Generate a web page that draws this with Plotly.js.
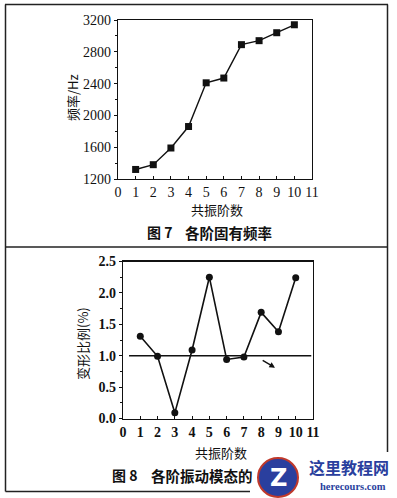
<!DOCTYPE html>
<html>
<head>
<meta charset="utf-8">
<script src="https://cdn.plot.ly/plotly-3.0.1.min.js"></script>
<style>html,body{margin:0;padding:0;background:#fff;}#chart{width:397px;height:498px;}</style>
</head>
<body>
<div id="chart"></div>
<script>
// ---- data ----
var modeOrder = [1, 2, 3, 4, 5, 6, 7, 8, 9, 10];
var naturalFreqHz = [1320, 1380, 1590, 1860, 2410, 2470, 2890, 2940, 3040, 3140];
var deformRatioPct = [1.31, 0.99, 0.09, 1.09, 2.25, 0.94, 0.98, 1.69, 1.38, 2.24];
var refLineX = [0.35, 10.9];
var refLineY = [1.0, 1.0];
var xTickVals = [0, 1, 2, 3, 4, 5, 6, 7, 8, 9, 10, 11];
var freqTickVals = [1200, 1600, 2000, 2400, 2800, 3200];
var ratioTickVals = [0.0, 0.5, 1.0, 1.5, 2.0, 2.5];
var ratioTickText = ["0.0", "0.5", "1.0", "1.5", "2.0", "2.5"];
var arrowFrom = [8.0, 0.94];
var arrowTo = [8.8, 0.81];

var W = 397, H = 498;
function px(x) { return x / W; }
function py(y) { return 1 - y / H; }

var serif = "Liberation Serif";
var cjk = "Noto Sans CJK SC";

var traces = [
  {x: modeOrder, y: naturalFreqHz, xaxis: 'x', yaxis: 'y', mode: 'lines+markers',
   line: {color: '#111', width: 1.4}, marker: {symbol: 'square', size: 7, color: '#111'}, hoverinfo: 'skip'},
  {x: refLineX, y: refLineY, xaxis: 'x2', yaxis: 'y2', mode: 'lines',
   line: {color: '#111', width: 1.6}, hoverinfo: 'skip'},
  {x: modeOrder, y: deformRatioPct, xaxis: 'x2', yaxis: 'y2', mode: 'lines+markers',
   line: {color: '#111', width: 1.6}, marker: {symbol: 'circle', size: 7, color: '#111'}, hoverinfo: 'skip'}
];

function xAx(domain, anchor, bold) {
  return {domain: domain, anchor: anchor, range: [0, 11], tickvals: xTickVals, ticks: 'inside', ticklen: 3,
    tickcolor: '#111', showline: true, linecolor: '#111', linewidth: 1.2, mirror: true,
    showgrid: false, zeroline: false, fixedrange: true,
    tickfont: {family: serif, size: 14, color: '#111', weight: bold ? 'bold' : 'normal'}};
}
function yAx(domain, anchor, range, vals, text, minorDt, bold) {
  var a = {domain: domain, anchor: anchor, range: range, tickvals: vals, ticks: 'outside', ticklen: 3,
    tickcolor: '#111', showline: true, linecolor: '#111', linewidth: 1.2, mirror: true,
    showgrid: false, zeroline: false, fixedrange: true,
    minor: {dtick: minorDt, ticks: 'outside', ticklen: 2, tickcolor: '#111'},
    tickfont: {family: serif, size: 14, color: '#111', weight: bold ? 'bold' : 'normal'}};
  if (text) a.ticktext = text;
  return a;
}

var lineStyle = {color: '#222', width: 1.5};
var shapes = [
  {type: 'line', xref: 'paper', yref: 'paper', x0: px(5), x1: px(388), y0: py(4.5), y1: py(4.5), line: lineStyle},
  {type: 'line', xref: 'paper', yref: 'paper', x0: px(5.5), x1: px(5.5), y0: py(4.5), y1: py(491.5), line: lineStyle},
  {type: 'line', xref: 'paper', yref: 'paper', x0: px(387.5), x1: px(387.5), y0: py(4.5), y1: py(452), line: lineStyle},
  {type: 'line', xref: 'paper', yref: 'paper', x0: px(5.5), x1: px(387.5), y0: py(247), y1: py(247), line: lineStyle},
  {type: 'line', xref: 'paper', yref: 'paper', x0: px(5.5), x1: px(250), y0: py(491.5), y1: py(491.5), line: lineStyle},
  // watermark logo
  {type: 'circle', xref: 'paper', yref: 'paper', layer: 'below', x0: px(258), x1: px(298), y0: py(497), y1: py(458),
   fillcolor: '#2a3f9e', line: {color: '#c0392b', width: 2}}
];

function txt(x, y, text, font, extra) {
  var a = {xref: 'paper', yref: 'paper', x: px(x), y: py(y), text: text, showarrow: false,
    xanchor: 'center', yanchor: 'middle', font: font};
  if (extra) for (var k in extra) a[k] = extra[k];
  return a;
}

var annotations = [
  txt(72, 98, '频率/Hz', {family: cjk, size: 13, color: '#111'}, {textangle: -90}),
  txt(217, 209, '共振阶数', {family: cjk, size: 13, color: '#111'}),
  txt(145, 232, '<b>图 7</b>', {family: cjk, size: 14, color: '#111'}, {xanchor: 'left'}),
  txt(183, 232, '<b>各阶固有频率</b>', {family: cjk, size: 14.5, color: '#111'}, {xanchor: 'left'}),
  txt(82, 344, '变形比例(%)', {family: cjk, size: 13, color: '#111'}, {textangle: -90}),
  txt(221, 452, '共振阶数', {family: cjk, size: 13, color: '#111'}),
  txt(110, 475, '<b>图 8</b>', {family: cjk, size: 14, color: '#111'}, {xanchor: 'left'}),
  txt(149, 475, '<b>各阶振动模态的</b>', {family: cjk, size: 14.5, color: '#111'}, {xanchor: 'left'}),
  {xref: 'x2', yref: 'y2', axref: 'x2', ayref: 'y2', x: arrowTo[0], y: arrowTo[1], ax: arrowFrom[0], ay: arrowFrom[1],
   text: '', showarrow: true, arrowhead: 2, arrowsize: 0.8, arrowwidth: 1.4, arrowcolor: '#111'},
  // watermark text
  txt(278, 477.5, '<b>Z</b>', {family: 'DejaVu Sans', size: 24, color: '#ffffff'}),
  txt(349, 467, '<b>这里教程网</b>', {family: cjk, size: 16, color: '#2a3f9e'}),
  txt(353, 486, '<b>herecours.com</b>', {family: serif, size: 10.5, color: '#2a3f9e'})
];

var layout = {
  width: W, height: H, margin: {l: 0, r: 0, t: 0, b: 0},
  paper_bgcolor: '#fff', plot_bgcolor: 'rgba(0,0,0,0)', showlegend: false,
  xaxis: xAx([px(118), px(312)], 'y', false),
  yaxis: yAx([py(179), py(20)], 'x', [1200, 3200], freqTickVals, null, 200, false),
  xaxis2: xAx([px(123), px(313)], 'y2', true),
  yaxis2: yAx([py(418.5), py(261.5)], 'x2', [0, 2.5], ratioTickVals, ratioTickText, 0.25, true),
  shapes: shapes, annotations: annotations
};

Plotly.newPlot('chart', traces, layout, {displayModeBar: false, staticPlot: true});
</script>
</body>
</html>
